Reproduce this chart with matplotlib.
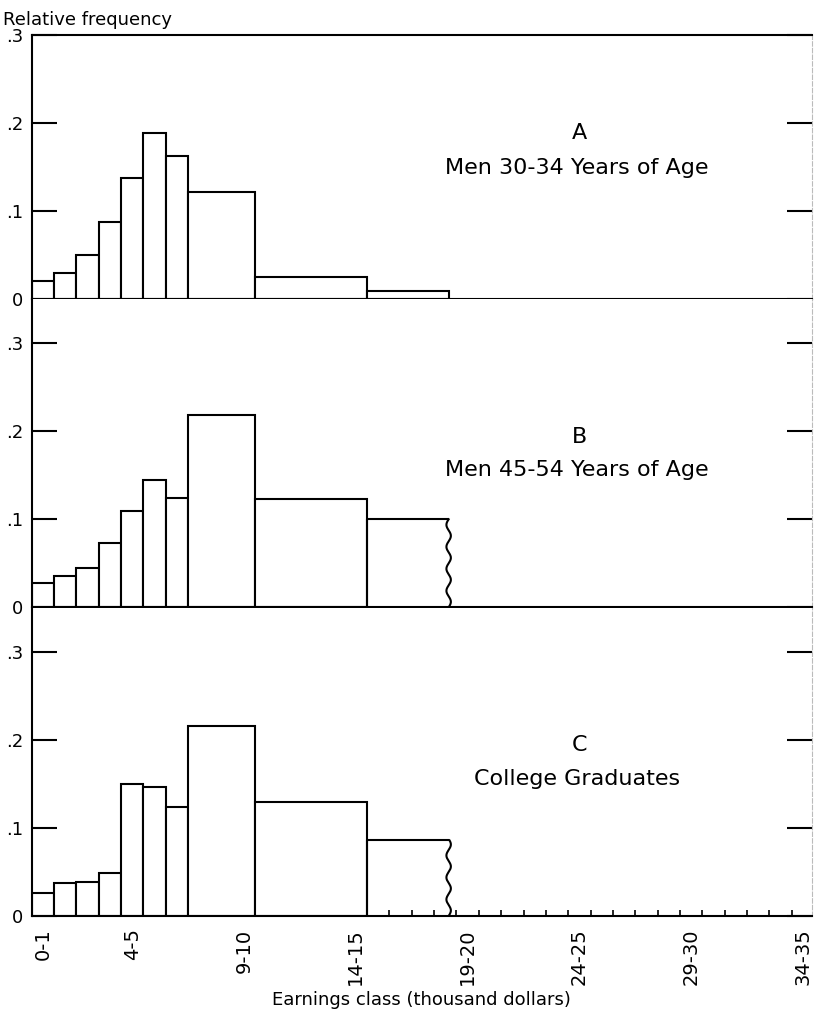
"""Relative frequency of earnings, three panels."""
import matplotlib.pyplot as plt
import numpy as np

# class edges (thousand dollars); last class is open ended
edges = [0, 1, 2, 3, 4, 5, 6, 7, 10, 15, 18.65]
freq_a = [0.021, 0.030, 0.050, 0.088, 0.138, 0.189, 0.163, 0.122, 0.025, 0.009]
freq_b = [0.028, 0.035, 0.045, 0.073, 0.110, 0.145, 0.124, 0.218, 0.123, 0.100]
freq_c = [0.026, 0.037, 0.039, 0.049, 0.150, 0.147, 0.124, 0.216, 0.130, 0.086]
panel_letters = ['A', 'B', 'C']
panel_titles = ['Men 30-34 Years of Age', 'Men 45-54 Years of Age',
                'College Graduates']
wavy_end = [False, True, True]
tick_starts = [0, 4, 9, 14, 19, 24, 29, 34]

LW = 1.5
plt.rcParams['font.family'] = 'DejaVu Sans'

fig = plt.figure(figsize=(8.14, 10.13), dpi=100)
left, width = 0.0389, 0.9586
boxes = [(0.7045, 0.2609, 0.30), (0.4005, 0.3040, 0.35),
         (0.0958, 0.3040, 0.35)]

left_edges = np.array(edges[:-1])
widths = np.diff(edges)

for i, (freq, (y0, h, ytop)) in enumerate(zip([freq_a, freq_b, freq_c], boxes)):
    ax = fig.add_axes([left, y0, width, h])
    ax.set_xlim(0, 34.9)
    ax.set_ylim(0, ytop)

    n = len(freq) - 1 if wavy_end[i] else len(freq)
    ax.bar(left_edges[:n], freq[:n], width=widths[:n], align='edge',
           facecolor='white', edgecolor='black', linewidth=LW, zorder=2)

    if wavy_end[i]:
        # open-ended class: wavy right edge
        x0, x1, hgt = edges[-2], edges[-1], freq[-1]
        ax.plot([x0, x0, x1], [0, hgt, hgt], color='black', lw=LW, zorder=3,
                solid_capstyle='butt')
        yy = np.linspace(0, hgt, 200)
        xx = x1 + 0.1 * np.sin(2 * np.pi * yy / 0.025)
        ax.plot(xx, yy, color='black', lw=LW, zorder=3)

    # y axis
    ax.set_yticks([0, 0.1, 0.2, 0.3])
    ax.set_yticklabels(['0', '.1', '.2', '.3'], fontsize=13)
    ax.tick_params(axis='y', direction='in', length=18, width=LW,
                   left=True, right=True, pad=6)

    # x axis
    ax.set_xticks([t + 0.5 for t in tick_starts])
    if i == 2:
        ax.set_xticklabels([f'{t}-{t + 1}' for t in tick_starts],
                           rotation=90, fontsize=14)
        ax.set_xticks(np.arange(1, 35), minor=True)
        ax.tick_params(axis='x', which='minor', direction='in', length=4,
                       width=1.2)
        ax.set_xlabel('Earnings class (thousand dollars)', fontsize=13,
                      labelpad=4)
    else:
        ax.set_xticklabels([])
    ax.tick_params(axis='x', which='major', length=0, pad=9)

    for s in ['left', 'bottom', 'top']:
        ax.spines[s].set_linewidth(LW)
    ax.spines['top'].set_visible(i == 0)
    ax.spines['right'].set_color('#bbbbbb')
    ax.spines['right'].set_linewidth(0.8)
    ax.spines['right'].set_linestyle((0, (4, 2)))

    ax.text(24.5, 0.189 if i == 0 else 0.194, panel_letters[i],
            fontsize=16, ha='center', va='center')
    ax.text(24.4, 0.149 if i == 0 else 0.156, panel_titles[i],
            fontsize=16, ha='center', va='center')

fig.text(0.004, 1 - 20 / 1013, 'Relative frequency', fontsize=13,
         ha='left', va='center')

plt.savefig('out.png', dpi=100)
plt.close()
